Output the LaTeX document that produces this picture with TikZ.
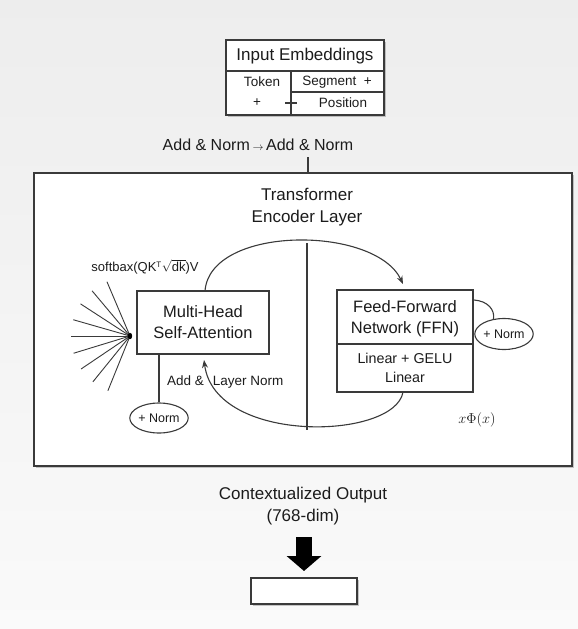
\documentclass[tikz,border=0pt]{standalone}
\usepackage{fontspec}
\setmainfont{Liberation Sans}
\usetikzlibrary{shadows,arrows.meta,calc,shapes.geometric}
\definecolor{lc}{HTML}{3A3A3A}
\definecolor{tc}{HTML}{1C1C1C}
\newcommand{\fsTitle}{\fontsize{17}{22}\selectfont}
\newcommand{\fsMain}{\fontsize{16.5}{21}\selectfont}
\newcommand{\fsSmall}{\fontsize{13.5}{19}\selectfont}
\newcommand{\fsNorm}{\fontsize{12.5}{14}\selectfont}
\begin{document}
\begin{tikzpicture}[x=1pt,y=-1pt,
  ln/.style={draw=lc, line width=1.1pt},
  box/.style={ln, fill=white, inner sep=0pt, rectangle},
  shad/.style={drop shadow={shadow xshift=1.5pt, shadow yshift=-2pt, opacity=0.3, fill=black!70}},
  txt/.style={inner sep=0pt, text=tc},
  normell/.style={ln, fill=white, ellipse, inner sep=0pt, font=\fsNorm, text=tc},
  arr/.style={ln, -{Stealth[length=8pt,width=6pt]}},
]
\useasboundingbox (0,0) rectangle (578,629);
\shade[top color=black!7, bottom color=black!2] (0,0) rectangle (578,629);

% Input embeddings
\node[box, shad, minimum width=158pt, minimum height=75pt] (emb) at (305,77.5) {};
\node[txt, font=\fsTitle] (embt) at (305,56) {Input Embeddings};
\draw[ln] (emb.west |- 0,71) -- (emb.east |- 0,71);
\draw[ln] (291,71) -- (emb.south -| 291,0);
\draw[ln] (291,92) -- (emb.east |- 0,92);
\node[txt, font=\fsSmall] (tok) at (262,82) {Token};
\node[txt, font=\fsSmall] (seg) at (337,82) {Segment\ \ +};
\node[txt, font=\fsSmall] (plus1) at (257,103) {+};
\draw[ln] (285,103) -- (297,103);
\node[txt, font=\fsSmall] (pos) at (343,103) {Position};

% Add & Norm
\node[txt, font=\fontsize{16}{20}\selectfont] (addn) at (258,145) {Add \& Norm\,{\fontsize{11}{11}\selectfont$\rightarrow$}\,Add \& Norm};
\coordinate (c1) at (308,157);

% Frame
\node[box, shad, line width=1.4pt, minimum width=538pt, minimum height=293pt] (frame) at (303,319.5) {};
\draw[ln] (c1) -- (c1 |- frame.north);
\node[txt, font=\fsTitle, align=center] (tit) at (307,207) {Transformer\\Encoder Layer};
\coordinate (vt) at (307,243);
\coordinate (vb) at (307,430);
\draw[ln] (vt) -- (vb);

% MHSA
\node[box, minimum width=132pt, minimum height=63pt, font=\fsMain, align=center, text=tc] (mhsa) at (203,322.5) {Multi-Head\\Self-Attention};

% FFN
\node[box, minimum width=136pt, minimum height=102pt] (ffn) at (405,341) {};
\draw[ln] (ffn.west |- 0,344) -- (ffn.east |- 0,344);
\node[txt, font=\fsMain, align=center] (ffnt) at (405,318.5) {Feed-Forward\\Network (FFN)};
\node[txt, font=\fontsize{14.3}{19}\selectfont, align=center] (ffnb) at (405,367.5) {Linear + GELU\\Linear};

% softmax label
\node[txt, font=\fontsize{13}{15}\selectfont] (soft) at (145,267) {softbax(QK$^{\mbox{\fontsize{8}{8}\selectfont T}}$$\sqrt{\mbox{dk}}$)V};

% fan
\coordinate (fan) at (130,336);
\foreach \a in {113,130,147,164,180,197,214,231,248}
  \draw[draw=lc, line width=0.9pt] (fan) -- ++({59*cos(\a)},{-59*sin(\a)});
\fill[black] (fan) ellipse (2.2pt and 3.2pt);

% top curve
\coordinate (tstart) at (205,291);
\coordinate (tend) at (403,284);
\draw[arr] (tstart) .. controls (210,225) and (375,225) .. (tend);

% bottom curve
\coordinate (bstart) at (403,392);
\coordinate (bend) at (204,360);
\draw[arr] (bstart) .. controls (395,440) and (215,445) .. (bend);

\node[txt, font=\fsSmall, anchor=west] (addln) at (167,382) {Add \&\hspace{9pt}Layer Norm};

% left norm
\node[normell, minimum width=49pt, minimum height=30pt] (norm1) at (159,418) {+ Norm};
\draw[ln] (mhsa.south -| norm1) -- (norm1.north);

% right norm
\node[normell, minimum width=50pt, minimum height=31pt] (norm2) at (504,334) {+ Norm};
\draw[ln] (474,300) .. controls (488,301) and (495,310) .. (norm2.125);

\node[txt, font=\fontsize{15}{15}\selectfont] (phi) at (477,420) {$x\Phi(x)$};

% output
\node[txt, font=\fsTitle, align=center] (out) at (303,506) {Contextualized Output\\(768-dim)};
\coordinate (a1) at (304,537);
\coordinate (a2) at (304,571);
\draw[line width=16pt, draw=black, -{Triangle[width=34pt,length=15pt]}] (a1) -- (a2);
\node[box, shad, minimum width=106pt, minimum height=26pt] (res) at (304,591) {};
\end{tikzpicture}
\end{document}
